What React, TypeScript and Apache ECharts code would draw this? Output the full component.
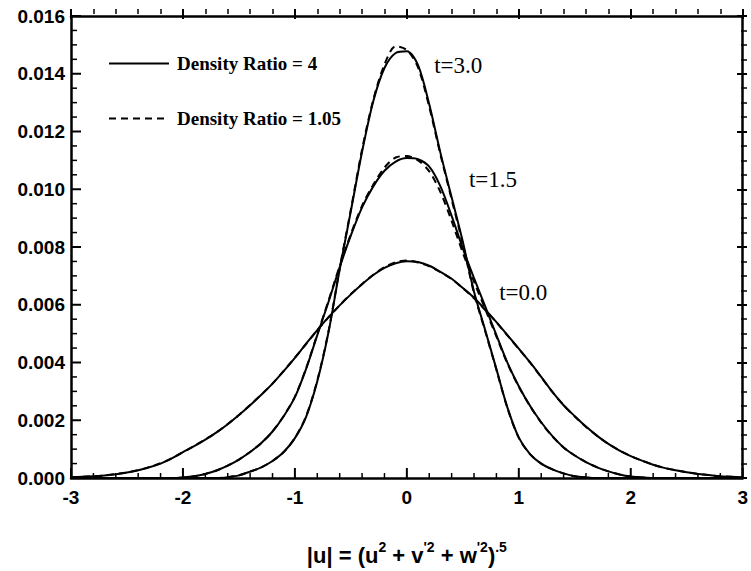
import React, { useEffect, useRef } from "react";
import * as echarts from "echarts";

// sample positions along |u|
const xs = [
  -3.0, -2.9, -2.8, -2.7, -2.6, -2.5, -2.4, -2.3, -2.2, -2.1,
  -2.0, -1.9, -1.8, -1.7, -1.6, -1.5, -1.4, -1.3, -1.2, -1.1,
  -1.0, -0.9, -0.8, -0.7, -0.6, -0.5, -0.4, -0.3, -0.2, -0.1,
  0.0, 0.1, 0.2, 0.3, 0.4, 0.5, 0.6, 0.7, 0.8, 0.9,
  1.0, 1.1, 1.2, 1.3, 1.4, 1.5, 1.6, 1.7, 1.8, 1.9,
  2.0, 2.1, 2.2, 2.3, 2.4, 2.5, 2.6, 2.7, 2.8, 2.9, 3.0,
];

// Density Ratio = 4 (solid)
const t0Solid = [
  0.00003, 0.00004, 0.00006, 0.00009, 0.00013, 0.00019, 0.00027, 0.00037, 0.0005, 0.00068,
  0.0009, 0.0011, 0.00133, 0.00158, 0.00186, 0.00218, 0.00252, 0.00288, 0.00327, 0.0037,
  0.00416, 0.00465, 0.00512, 0.00557, 0.00598, 0.00636, 0.00671, 0.00703, 0.00728, 0.00744,
  0.00751, 0.00748, 0.00735, 0.00714, 0.0069, 0.00658, 0.00624, 0.00583, 0.0054, 0.00494,
  0.00448, 0.00401, 0.0035, 0.00298, 0.00252, 0.00214, 0.00178, 0.00146, 0.00118, 0.00095,
  0.00076, 0.0006, 0.00046, 0.00035, 0.00027, 0.0002, 0.00014, 0.0001, 0.00006, 0.00004, 0.00002,
];
const t15Solid = [
  0, 0, 0, 0, 0, 0, 0, 0, 0, 0,
  0.00002, 0.00006, 0.00014, 0.00026, 0.00043, 0.00064, 0.0009, 0.00121, 0.00161, 0.00214,
  0.0028, 0.00378, 0.00495, 0.0061, 0.0073, 0.0084, 0.00937, 0.0101, 0.01064, 0.01096,
  0.01108, 0.01104, 0.01078, 0.0101, 0.00908, 0.00795, 0.00692, 0.00594, 0.00495, 0.00398,
  0.00318, 0.0025, 0.00193, 0.00145, 0.00106, 0.00078, 0.00055, 0.00037, 0.00023, 0.00012,
  0.00005, 0.00002, 0, 0, 0, 0, 0, 0, 0, 0, 0,
];
const t3Solid = [
  0, 0, 0, 0, 0, 0, 0, 0, 0, 0,
  0, 0, 0, 0, 0.00003, 0.00009, 0.00022, 0.00037, 0.00059, 0.0009,
  0.00138, 0.00212, 0.00335, 0.00505, 0.00722, 0.00925, 0.0113, 0.01305, 0.0142, 0.01472,
  0.01478, 0.0143, 0.01294, 0.01126, 0.00972, 0.00818, 0.00645, 0.00512, 0.00377, 0.00242,
  0.0014, 0.00083, 0.0005, 0.0003, 0.00016, 0.00006, 0.00002, 0, 0, 0,
  0, 0, 0, 0, 0, 0, 0, 0, 0, 0, 0,
];

// Density Ratio = 1.05 (dashed)
const t0Dashed = [
  0.00003, 0.00004, 0.00006, 0.00009, 0.00014, 0.00019, 0.00027, 0.00038, 0.00051, 0.00068,
  0.00089, 0.00111, 0.00134, 0.00158, 0.00187, 0.00218, 0.00253, 0.00289, 0.00327, 0.00371,
  0.00417, 0.00464, 0.00512, 0.00556, 0.00598, 0.00637, 0.00672, 0.00704, 0.0073, 0.00747,
  0.00753, 0.00746, 0.00733, 0.00713, 0.00689, 0.00657, 0.00622, 0.00582, 0.00539, 0.00493,
  0.00447, 0.004, 0.00349, 0.00298, 0.00252, 0.00213, 0.00177, 0.00146, 0.00118, 0.00095,
  0.00076, 0.0006, 0.00046, 0.00035, 0.00027, 0.0002, 0.00014, 0.0001, 0.00006, 0.00004, 0.00002,
];
const t15Dashed = [
  0, 0, 0, 0, 0, 0, 0, 0, 0, 0,
  0.00002, 0.00006, 0.00014, 0.00026, 0.00043, 0.00064, 0.0009, 0.00121, 0.00161, 0.00215,
  0.00282, 0.0038, 0.00498, 0.00614, 0.00734, 0.00845, 0.00943, 0.01016, 0.01075, 0.0111,
  0.01115, 0.011, 0.01062, 0.0099, 0.0089, 0.0078, 0.0068, 0.00585, 0.0049, 0.00395,
  0.00316, 0.00249, 0.00192, 0.00144, 0.00106, 0.00078, 0.00055, 0.00037, 0.00023, 0.00012,
  0.00005, 0.00002, 0, 0, 0, 0, 0, 0, 0, 0, 0,
];
const t3Dashed = [
  0, 0, 0, 0, 0, 0, 0, 0, 0, 0,
  0, 0, 0, 0, 0.00003, 0.00009, 0.00022, 0.00037, 0.00059, 0.0009,
  0.00139, 0.00214, 0.00338, 0.00508, 0.00726, 0.0093, 0.01138, 0.0131, 0.01432, 0.01495,
  0.01482, 0.01422, 0.01285, 0.0112, 0.00965, 0.0081, 0.0064, 0.00508, 0.00375, 0.0024,
  0.00139, 0.00083, 0.0005, 0.0003, 0.00016, 0.00006, 0.00002, 0, 0, 0,
  0, 0, 0, 0, 0, 0, 0, 0, 0, 0, 0,
];

const solidName = "Density Ratio = 4";
const dashedName = "Density Ratio = 1.05";

// curve annotations: [x, y, text], label drawn to the right of the point
const curveLabels: [number, number, string][] = [
  [0.24, 0.01427, "t=3.0"],
  [0.55, 0.01034, "t=1.5"],
  [0.82, 0.00642, "t=0.0"],
];

// axis ranges and tick steps
const X_MIN = -3;
const X_MAX = 3;
const X_MAJOR = 1;
const X_MINOR_SPLIT = 5;
const Y_MIN = 0;
const Y_MAX = 0.016;
const Y_MAJOR = 0.002;
const Y_MINOR_SPLIT = 4;

const zip = (ys: number[]) => xs.map((x, i) => [x, ys[i]]);

// tick marks for the bottom and left edges: [value, dim (0 = x, 1 = y), isMajor]
function edgeTicks(): number[][] {
  const out: number[][] = [];
  const nx = Math.round(((X_MAX - X_MIN) / X_MAJOR) * X_MINOR_SPLIT);
  for (let i = 0; i <= nx; i++) {
    out.push([Number((X_MIN + (i * X_MAJOR) / X_MINOR_SPLIT).toFixed(4)), 0, i % X_MINOR_SPLIT === 0 ? 1 : 0]);
  }
  const ny = Math.round(((Y_MAX - Y_MIN) / Y_MAJOR) * Y_MINOR_SPLIT);
  for (let i = 0; i <= ny; i++) {
    out.push([Number((Y_MIN + (i * Y_MAJOR) / Y_MINOR_SPLIT).toFixed(6)), 1, i % Y_MINOR_SPLIT === 0 ? 1 : 0]);
  }
  return out;
}

// plot box geometry (px)
const G_LEFT = 71;
const G_RIGHT = 4;
const G_TOP = 16;
const G_BOTTOM = 86;
const W = 751;
const H = 571;
const PLOT_W = W - G_LEFT - G_RIGHT;
const PLOT_H = H - G_TOP - G_BOTTOM;

export default function App() {
  const ref = useRef<HTMLDivElement>(null);
  useEffect(() => {
    if (!ref.current) return;
    const chart = echarts.init(ref.current, undefined, { renderer: "svg" });
    const tickFont = () => ({
      fontFamily: "Liberation Sans",
      fontWeight: "bold" as const,
      fontSize: 19,
      color: "#000",
    });
    const lineOn = () => ({ show: true, onZero: false, lineStyle: { color: "#000", width: 2.5 } });
    const lineOff = () => ({ show: false, onZero: false });
    const tickOn = () => ({ show: true, inside: false, length: 10, lineStyle: { color: "#000", width: 2 } });
    const minorOn = (n: number, len: number) => ({
      show: true,
      splitNumber: n,
      length: len,
      lineStyle: { color: "#000", width: 1.5 },
    });
    const xBase = { type: "value", min: X_MIN, max: X_MAX, interval: X_MAJOR, splitLine: { show: false } };
    const yBase = { type: "value", min: Y_MIN, max: Y_MAX, interval: Y_MAJOR, splitLine: { show: false } };
    const solid = { color: "#000", width: 2, type: "solid" as const };
    const dashed = { color: "#000", width: 2, type: [7, 5] as any };
    const mk = (name: string, ys: number[], ls: any) => ({
      type: "line",
      name,
      data: zip(ys),
      showSymbol: false,
      symbol: "none",
      smooth: 0.3,
      lineStyle: ls,
      itemStyle: { color: "#000" },
      xAxisIndex: 0,
      yAxisIndex: 0,
      z: 3,
    });
    chart.setOption({
      animation: false,
      backgroundColor: "#fff",
      grid: { left: G_LEFT, right: G_RIGHT, top: G_TOP, bottom: G_BOTTOM },
      legend: {
        data: [solidName, dashedName],
        orient: "vertical",
        left: 108,
        top: 54,
        padding: 0,
        itemWidth: 60,
        itemHeight: 16,
        itemGap: 36,
        selectedMode: false,
        itemStyle: { opacity: 0 },
        textStyle: {
          fontFamily: "Liberation Serif",
          fontWeight: "bold",
          fontSize: 19,
          color: "#000",
          padding: [0, 0, 0, 3],
        },
      },
      xAxis: [
        {
          ...xBase,
          position: "bottom",
          axisLine: lineOn(),
          axisTick: { show: false },
          minorTick: { show: false },
          axisLabel: { ...tickFont(), margin: 10, formatter: (v: number) => String(v) },
          name: "{b||u| = (u}{s|2}{b| + v}{s|'2}{b| + w}{s|'2}{b|)}{s|.5}",
          nameLocation: "middle",
          nameGap: 62,
          nameTextStyle: {
            rich: {
              b: { fontFamily: "Liberation Sans", fontWeight: "bold", fontSize: 22, color: "#000", verticalAlign: "bottom", lineHeight: 26 },
              s: { fontFamily: "Liberation Sans", fontWeight: "bold", fontSize: 14, color: "#000", verticalAlign: "top", lineHeight: 26, padding: [0, 0, 10, 0] },
            },
          },
        },
        {
          ...xBase,
          position: "top",
          axisLine: lineOn(),
          axisTick: { show: false },
          minorTick: { show: false },
          axisLabel: { show: false },
        },
        // tick-only axis: a bottom axis moved onto the top edge, ticks point down into the box
        {
          ...xBase,
          position: "bottom",
          offset: -PLOT_H,
          axisLine: lineOff(),
          axisTick: tickOn(),
          minorTick: minorOn(X_MINOR_SPLIT, 5),
          axisLabel: { show: false },
        },
      ],
      yAxis: [
        {
          ...yBase,
          position: "left",
          axisLine: lineOn(),
          axisTick: { show: false },
          minorTick: { show: false },
          axisLabel: { ...tickFont(), margin: 6, formatter: (v: number) => v.toFixed(3) },
        },
        {
          ...yBase,
          position: "right",
          axisLine: lineOn(),
          axisTick: { show: false },
          minorTick: { show: false },
          axisLabel: { show: false },
        },
        // tick-only axis: a left axis moved onto the right edge, ticks point left into the box
        {
          ...yBase,
          position: "left",
          offset: -PLOT_W,
          axisLine: lineOff(),
          axisTick: tickOn(),
          minorTick: minorOn(Y_MINOR_SPLIT, 6),
          axisLabel: { show: false },
        },
      ],
      series: [
        mk(solidName, t0Solid, solid),
        mk(solidName, t15Solid, solid),
        mk(solidName, t3Solid, solid),
        mk(dashedName, t0Dashed, dashed),
        mk(dashedName, t15Dashed, dashed),
        mk(dashedName, t3Dashed, dashed),
        {
          // inward ticks along the bottom and left edges, placed through the axes' scales
          type: "custom",
          name: "edgeTicks",
          xAxisIndex: 0,
          yAxisIndex: 0,
          clip: false,
          silent: true,
          z: 5,
          data: edgeTicks(),
          renderItem: (_params: any, api: any) => {
            const v = api.value(0);
            const dim = api.value(1);
            const major = api.value(2) === 1;
            const style = { stroke: "#000", lineWidth: major ? 2 : 1.5 };
            if (dim === 0) {
              const p = api.coord([v, Y_MIN]);
              const len = major ? 10 : 5;
              return { type: "line", shape: { x1: p[0], y1: p[1], x2: p[0], y2: p[1] - len }, style };
            }
            const p = api.coord([X_MIN, v]);
            const len = major ? 10 : 6;
            return { type: "line", shape: { x1: p[0], y1: p[1], x2: p[0] + len, y2: p[1] }, style };
          },
        },
        {
          type: "scatter",
          name: "labels",
          xAxisIndex: 0,
          yAxisIndex: 0,
          data: curveLabels,
          symbolSize: 1,
          itemStyle: { color: "rgba(0,0,0,0)", opacity: 1 },
          silent: true,
          z: 4,
          label: {
            show: true,
            position: "right",
            distance: 0,
            formatter: (p: any) => p.data[2],
            fontFamily: "Liberation Serif",
            fontSize: 23,
            color: "#000",
            opacity: 1,
          },
        },
      ],
    });
    return () => chart.dispose();
  }, []);
  return (
    <div
      ref={ref}
      style={{ position: "fixed", left: 0, top: 0, width: W, height: H, background: "#fff" }}
    />
  );
}
